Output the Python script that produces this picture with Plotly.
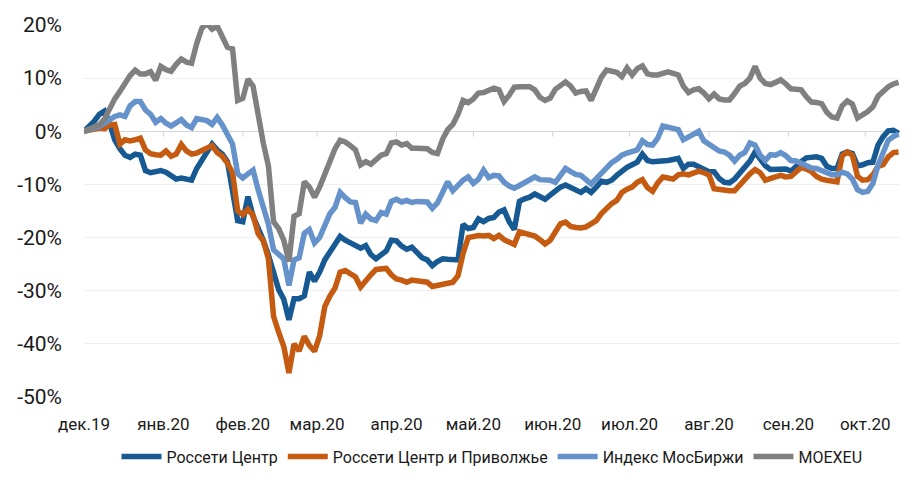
import pandas as pd
import plotly.graph_objects as go

# Dates (every 2 days from 1 Dec 2019)
dates = pd.date_range("2019-12-01", periods=160, freq="2D")

rosseti_center = [
    0, 0.9, 1.9, 3.2, 3.8, 1.5, -1.6, -3.3, -4.5, -4.9,
    -4.3, -4.5, -7.4, -7.8, -7.6, -7.4, -7.7, -8.3, -9, -8.8,
    -8.9, -9.2, -7, -5.6, -4, -2.4, -3.5, -4.3, -5.7, -11,
    -16.8, -17, -12.3, -16, -18.2, -20.5, -23.3, -27, -29.8, -31.6,
    -35.5, -31.5, -31.5, -31, -26.5, -28.2, -26.5, -24.2, -22.8, -21.3,
    -19.8, -20.5, -21, -21.6, -22, -21.5, -23.2, -24, -23.4, -22.5,
    -20.5, -20.6, -21.6, -22.2, -21.8, -23, -23.8, -24.2, -25.3, -24.5,
    -24, -24.1, -24.2, -24.2, -17.5, -18.3, -18.1, -16.5, -17, -16.4,
    -16.2, -15.2, -14.8, -17, -18.5, -13.2, -12.7, -12.4, -11.8, -12.2,
    -12.8, -12, -11.2, -10.5, -10.1, -10.6, -11.2, -11.5, -10.8, -11.5,
    -10.5, -9.4, -9.6, -9.2, -8.3, -7.5, -6.8, -6.3, -5.8, -4.3,
    -5.5, -5.75, -5.75, -5.7, -5.5, -5.3, -5.1, -7, -6.2, -6.2,
    -6.6, -7.2, -7.6, -7.6, -8.9, -9.6, -9.7, -9, -7.8, -6.8,
    -5.6, -3.9, -5.3, -6.5, -7.2, -7.2, -7, -7.1, -7.5, -6.5,
    -5.7, -5, -4.8, -4.8, -5.1, -6.6, -7, -7, -4.3, -3.9,
    -4.2, -6.5, -6.3, -5.9, -5.8, -2.6, -1, 0.1, 0.2, -0.4,
]

rosseti_volga = [
    0, 0.2, 0.4, 0.6, 0.5, 1.2, 1.3, -2.4, -1.6, -1.8,
    -1.6, -1.3, -3.5, -4.2, -4.4, -4.5, -3.7, -4.7, -4.3, -2.5,
    -3.7, -4.3, -4.1, -3.6, -3, -2.7, -4, -4.7, -6, -7.8,
    -15, -15.7, -14.7, -15.8, -19.3, -20.6, -24, -34.8, -37.8, -40.5,
    -45.5, -40, -41.3, -38.6, -40.3, -41.4, -38.5, -33, -31, -29.5,
    -26.5, -26.2, -26.8, -27.4, -29.3, -28, -27, -26, -25.8, -25.8,
    -27, -27.8, -28, -28.4, -28, -28.1, -28.3, -28.4, -29.2, -29,
    -28.9, -28.7, -28.4, -27.2, -23, -20, -19.7, -19.6, -19.7, -19.6,
    -20.2, -19.6, -20.4, -21, -21.3, -18.9, -19.2, -19.4, -19.7, -20.4,
    -21.2, -20.5, -18.8, -17.4, -17.1, -17.9, -18.1, -18.2, -18, -17.4,
    -16.8, -15.5, -14.5, -13.6, -13, -11.5, -10.9, -10.5, -9.6, -9.1,
    -10.6, -11.3, -9.7, -8.6, -8.8, -9, -8.2, -8, -8.2, -7.9,
    -7.5, -7.8, -8.2, -10.8, -11, -11.1, -11.2, -11.2, -10, -9,
    -8, -7.2, -7.8, -9.2, -8.8, -8.6, -8.3, -8.6, -8.5, -7.6,
    -6.8, -7.1, -7.6, -8.5, -9, -9.2, -9.3, -9.5, -4.6, -3.9,
    -4.5, -8.5, -9.2, -9.1, -8.2, -6.6, -6.3, -4.8, -4, -3.9,
]

moex_index = [
    0, 0.3, 0.6, 0.9, 1.5, 2.3, 2.8, 3.1, 2.8, 4.8,
    5.6, 5.6, 4, 3.2, 1.7, 2.4, 1.5, 1, 1.5, 2.2,
    1.2, 0.7, 2.4, 2.3, 2, 1.3, 2.6, 1.2, -0.8, -2.4,
    -8, -8.8, -8, -7.3, -11, -14.2, -17.5, -22.3, -23.2, -24,
    -29, -24.2, -23.8, -19.2, -18.5, -21, -20, -17.5, -15.5, -14.3,
    -11.5, -12.5, -13.3, -13.4, -17.3, -15.6, -16.5, -16.8, -15.3, -15.6,
    -13.2, -12.8, -13.3, -13, -13.4, -13.2, -13.3, -13.3, -14.5, -13.5,
    -11.5, -9.5, -11.2, -10.1, -9.2, -8.6, -9.8, -9, -7.3, -8.7,
    -8.3, -8.4, -9.6, -10.3, -10.7, -10.2, -9.6, -9.3, -8.6, -9.1,
    -9.1, -9.2, -9.6, -8.1, -7, -7.6, -8.1, -8.3, -9.2, -9.9,
    -8.9, -7.8, -6.7, -5.9, -5.3, -4.5, -4.1, -3.8, -3.5, -1.8,
    -2.5, -2.6, -1.3, 1, 0.8, 0.5, 0.3, -1.6, -1, -0.5,
    0, -1.8, -2.4, -2.8, -3.7, -3.9, -4.5, -5.6, -4.5, -4,
    -2.2, -2.6, -4.5, -5.5, -4.4, -4.5, -4, -4.6, -5.5, -5.6,
    -6, -6.5, -6.9, -7, -7.4, -8, -8.2, -8.2, -7.7, -8,
    -9, -11, -11.5, -11.3, -9.8, -6.4, -3.8, -1.7, -1, -0.5,
]

moexeu = [
    0, 0.4, 0.8, 1.2, 2.3, 4.4, 6.1, 7.5, 9.2, 10.5,
    11.5, 10.8, 10.8, 11.2, 9.6, 12.2, 11.6, 11.3, 12.6, 13.6,
    13, 12.8, 16.5, 19.4, 20.3, 19.2, 19.8, 18, 15.8, 15.5,
    5.8, 6.2, 9.8, 8.5, 2.5, -2.2, -6.5, -17, -18.3, -20.5,
    -24.5, -16, -15.5, -9.5, -10.5, -12.4, -10.5, -8.2, -6, -3.3,
    -1.7, -2, -2.7, -3.5, -6.3, -5.7, -6.2, -5.2, -4.5, -4.2,
    -2.2, -2, -2.6, -2.3, -3.2, -3.2, -3.2, -3.3, -4, -4.2,
    -1.5, 0.3, 1.3, 3.2, 5.8, 5.4, 6.1, 7.2, 7.3, 7.8,
    8.1, 7.8, 5.6, 6.8, 8.3, 8.4, 8.4, 8.4, 7.8, 6.4,
    5.8, 6.25, 7.9, 8.7, 9.3, 8.5, 7.2, 7.5, 7.6, 5.8,
    8, 10.2, 11.5, 11.3, 11.1, 10.3, 11.9, 10.6, 11.8, 12.3,
    10.8, 10.6, 10.6, 10.9, 11.2, 10.9, 10.6, 8.5, 7.3, 7.8,
    8, 7.2, 6.1, 7, 6.1, 5.9, 5.9, 7.1, 8.5, 9,
    10, 12.2, 10, 9, 8.8, 9.2, 9.7, 8.9, 8, 7.9,
    7.8, 6.5, 5.5, 5.4, 5.2, 3.6, 2.7, 2.5, 4.8, 5.7,
    5.1, 2.5, 3, 3.7, 4.6, 6.6, 7.5, 8.4, 8.9, 9.2,
]

series_names = ["Россети Центр", "Россети Центр и Приволжье", "Индекс МосБиржи", "MOEXEU"]
series_colors = ["#175a93", "#c55a11", "#6592cb", "#808080"]

month_ticks = ["2019-12-01", "2020-01-01", "2020-02-01", "2020-03-01", "2020-04-01",
               "2020-05-01", "2020-06-01", "2020-07-01", "2020-08-01", "2020-09-01",
               "2020-10-01"]
month_labels = ["дек.19", "янв.20", "фев.20", "мар.20", "апр.20", "май.20",
                "июн.20", "июл.20", "авг.20", "сен.20", "окт.20"]

y_ticks = [-50, -40, -30, -20, -10, 0, 10, 20]
y_labels = ["-50%", "-40%", "-30%", "-20%", "-10%", "0%", "10%", "20%"]

FONT = "Roboto, sans-serif"

fig = go.Figure()
for name, vals, col in zip(series_names,
                           [rosseti_center, rosseti_volga, moex_index, moexeu],
                           series_colors):
    fig.add_trace(go.Scatter(x=dates, y=vals, mode="lines", name=name,
                             line=dict(color=col, width=5.5), hoverinfo="skip"))

# small tick marks hanging from the zero line
for t in month_ticks:
    fig.add_shape(type="line", xref="x", yref="y", x0=t, x1=t, y0=0, y1=-1,
                  line=dict(color="#d0d0d0", width=1), layer="below")

fig.update_layout(
    width=911, height=493,
    margin=dict(l=84, r=11, t=25, b=96, autoexpand=False),
    paper_bgcolor="white", plot_bgcolor="white",
    font=dict(family=FONT, color="#1a1a1a"),
    showlegend=True,
    legend=dict(orientation="h", x=0.5, xanchor="center", y=-0.16, yanchor="middle",
                font=dict(size=16, family=FONT), itemwidth=40, tracegroupgap=0),
    xaxis=dict(type="date", range=["2019-12-01", "2020-10-14 14:00"],
               tickvals=month_ticks, ticktext=month_labels,
               showgrid=False, zeroline=False, showline=False, ticks="",
               automargin=False,
               tickfont=dict(size=17, family=FONT, color="#1a1a1a"),
               ticklabelstandoff=15),
    yaxis=dict(range=[-50, 20], tickvals=y_ticks, ticktext=y_labels,
               showgrid=True, gridcolor="#efefef", gridwidth=1,
               zeroline=True, zerolinecolor="#d6d6d6", zerolinewidth=1,
               showline=False, ticks="", automargin=False,
               tickfont=dict(size=21, family=FONT, color="#1a1a1a"),
               ticklabelstandoff=21),
)

fig.write_html("out.html", config={"displayModeBar": False},
               post_script="document.body.style.margin='0px';")
